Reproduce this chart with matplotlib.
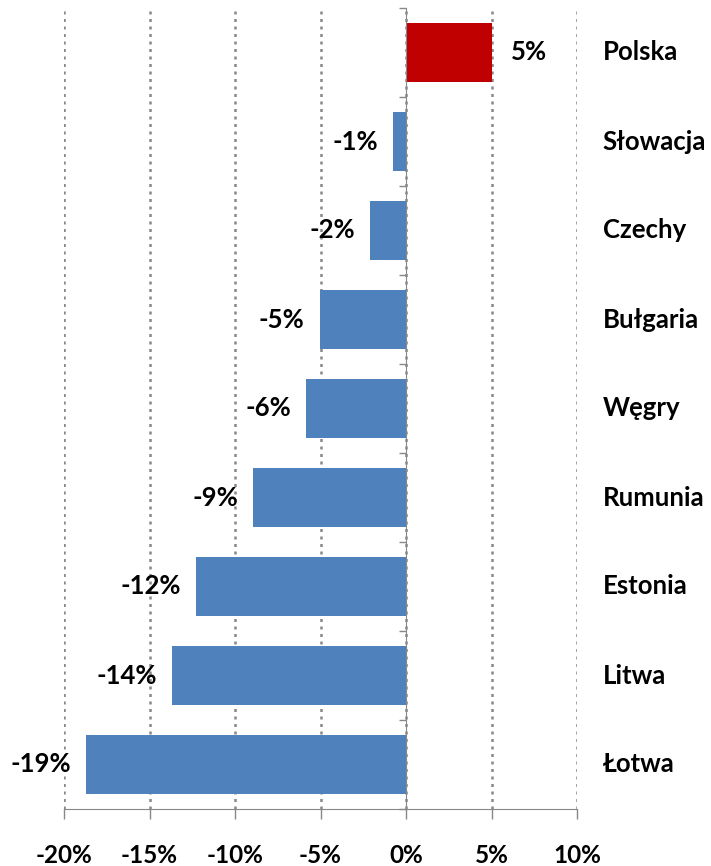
import numpy as np
import matplotlib
matplotlib.use("Agg")
import matplotlib.pyplot as plt
from matplotlib.ticker import FuncFormatter
import matplotlib.transforms as mtransforms

countries = ["Polska", "Słowacja", "Czechy", "Bułgaria", "Węgry",
             "Rumunia", "Estonia", "Litwa", "Łotwa"]
values = [5.0, -0.75, -2.1, -5.05, -5.85, -8.95, -12.3, -13.7, -18.7]
labels = ["5%", "-1%", "-2%", "-5%", "-6%", "-9%", "-12%", "-14%", "-19%"]
xticks = [-20, -15, -10, -5, 0, 5, 10]

blue = "#4F81BD"
red = "#C00000"
grey = "#888888"

plt.rcParams["font.family"] = ["Lato", "DejaVu Sans"]
plt.rcParams["font.weight"] = "bold"

fig = plt.figure(figsize=(7.11, 8.66), dpi=100)
ax = fig.add_axes([64 / 711, 1 - 809 / 866, (577 - 64) / 711, (809 - 8) / 866])

y = np.arange(len(countries))
colors = [red if v > 0 else blue for v in values]
ax.barh(y, values, height=0.66, color=colors, zorder=2)

ax.set_xlim(-20, 10)
ax.set_ylim(len(countries) - 0.5, -0.5)

# dotted vertical grid
ax.set_xticks(xticks)
ax.xaxis.set_major_formatter(FuncFormatter(lambda v, p: "%d%%" % v))
ax.grid(axis="x", linestyle=(0, (1.2, 1.8)), color=grey, linewidth=1.8, zorder=0)
ax.tick_params(axis="x", direction="out", length=7, width=1, color=grey,
               labelsize=17.5, pad=18)
for t in ax.get_xticklabels():
    t.set_fontweight("bold")

# zero axis with ticks between categories
ax.spines["left"].set_position(("data", 0))
ax.spines["left"].set_color(grey)
ax.spines["left"].set_zorder(3)
ax.set_yticks(np.arange(-0.5, len(countries), 1.0))
ax.set_yticklabels([])
ax.tick_params(axis="y", direction="out", length=5, width=1, color=grey)
ax.spines["bottom"].set_color(grey)
ax.spines["top"].set_visible(False)
ax.spines["right"].set_visible(False)

# value labels
offset_r = mtransforms.offset_copy(ax.transData, fig=fig, x=19, y=0, units="dots")
offset_l = mtransforms.offset_copy(ax.transData, fig=fig, x=-15, y=0, units="dots")
for yi, v, lab in zip(y, values, labels):
    if v > 0:
        ax.text(v, yi, lab, transform=offset_r, ha="left", va="center",
                fontsize=18.5, fontweight="bold")
    else:
        ax.text(v, yi, lab, transform=offset_l, ha="right", va="center",
                fontsize=18.5, fontweight="bold")

# country names on the right
trans = mtransforms.blended_transform_factory(ax.transAxes, ax.transData)
for yi, c in zip(y, countries):
    ax.text(1.05, yi, c, transform=trans, ha="left", va="center",
            fontsize=18.5, fontweight="bold")

fig.savefig("out.png", dpi=100)
